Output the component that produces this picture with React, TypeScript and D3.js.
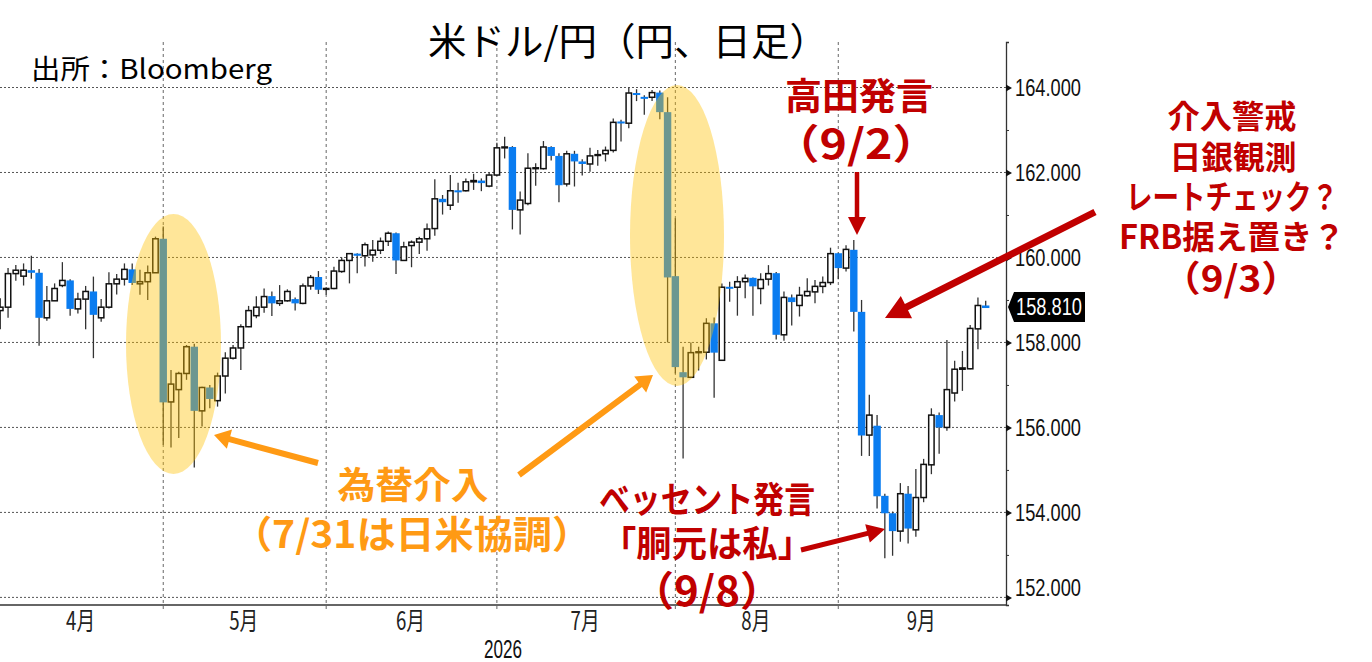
import React, { useEffect, useRef } from 'react';
import * as d3 from 'd3';

const WIDTH = 1372;
const HEIGHT = 662;

// USD/JPY daily bars
const opens = [
  158.75, 158.83, 159.62, 159.56, 159.70, 159.64, 158.58, 158.98, 159.34, 159.46,
  158.79, 159.02, 159.20, 158.58, 158.83, 159.38, 159.49, 159.72, 159.38, 159.43,
  159.64, 160.44, 156.60, 156.89, 157.27, 157.90, 156.39, 156.94, 156.63, 157.21,
  157.63, 157.87, 158.37, 158.63, 158.83, 159.09, 158.92, 158.98, 159.02, 158.92,
  159.33, 159.54, 159.25, 159.27, 159.67, 159.93, 160.09, 160.04, 160.06, 160.17,
  160.38, 160.57, 159.93, 160.28, 160.36, 160.44, 160.68, 161.38, 161.23, 161.58,
  161.57, 161.78, 161.81, 161.68, 161.94, 162.58, 162.60, 161.12, 161.27, 162.09,
  162.09, 162.60, 162.39, 161.73, 162.44, 162.26, 162.20, 162.40, 162.44, 162.52,
  163.20, 163.16, 163.87, 163.78, 163.77, 163.88, 163.42, 159.56, 157.30, 157.18,
  157.76, 157.77, 158.45, 157.58, 159.31, 159.30, 159.43, 159.52, 159.27, 159.49,
  159.63, 158.18, 159.06, 158.87, 159.10, 159.19, 159.32, 159.41, 160.10, 159.75,
  160.18, 158.72, 155.82, 156.04, 154.39, 153.98, 153.56, 154.44, 153.59, 154.35,
  155.12, 156.29, 156.00, 156.81, 157.37, 157.38, 158.32, 158.87,
];
const closes = [
  158.83, 159.62, 159.70, 159.70, 159.64, 158.58, 158.98, 159.27, 159.46, 158.79,
  159.02, 159.20, 158.65, 158.83, 159.38, 159.49, 159.72, 159.40, 159.43, 159.64,
  160.44, 156.59, 157.02, 157.27, 157.90, 156.39, 156.94, 156.67, 157.21, 157.63,
  157.87, 158.37, 158.75, 158.83, 159.08, 158.92, 158.98, 159.20, 158.92, 159.33,
  159.53, 159.24, 159.27, 159.68, 159.93, 160.09, 160.04, 160.30, 160.17, 160.38,
  160.57, 159.93, 160.25, 160.36, 160.44, 160.67, 161.38, 161.30, 161.57, 161.56,
  161.78, 161.81, 161.75, 161.94, 162.58, 162.60, 161.12, 161.35, 162.10, 162.11,
  162.60, 162.39, 161.70, 162.44, 162.26, 162.20, 162.39, 162.42, 162.52, 163.18,
  163.17, 163.87, 163.85, 163.76, 163.88, 163.42, 159.53, 157.42, 157.18, 157.76,
  157.78, 158.45, 157.76, 159.30, 159.29, 159.43, 159.51, 159.32, 159.48, 159.62,
  158.18, 159.06, 158.95, 159.11, 159.20, 159.32, 159.41, 160.09, 159.75, 160.19,
  158.72, 155.81, 156.29, 154.38, 153.98, 153.56, 154.44, 153.62, 154.35, 155.13,
  156.29, 156.00, 156.89, 157.37, 157.40, 158.33, 158.87, 158.81,
];
const highs = [
  159.04, 159.75, 159.82, 159.86, 160.04, 159.73, 159.33, 159.39, 159.89, 159.49,
  159.17, 159.33, 159.55, 159.02, 159.65, 159.61, 159.86, 159.86, 159.71, 159.81,
  160.49, 160.73, 157.35, 157.31, 157.94, 157.97, 156.96, 157.00, 157.29, 157.77,
  157.94, 158.43, 158.86, 159.09, 159.27, 159.20, 159.35, 159.25, 159.06, 159.39,
  159.59, 159.68, 159.30, 159.78, 160.00, 160.10, 160.10, 160.35, 160.41, 160.47,
  160.61, 160.59, 160.37, 160.40, 160.49, 160.80, 161.84, 161.47, 161.94, 161.76,
  161.86, 161.97, 161.86, 162.00, 162.70, 162.84, 162.62, 161.55, 162.45, 162.22,
  162.74, 162.62, 162.45, 162.51, 162.51, 162.31, 162.58, 162.53, 162.61, 163.27,
  163.24, 164.00, 163.96, 163.82, 163.94, 163.93, 163.77, 160.92, 157.90, 158.00,
  157.90, 158.57, 158.59, 159.39, 159.43, 159.56, 159.60, 159.53, 159.63, 159.82,
  159.66, 159.20, 159.13, 159.31, 159.51, 159.47, 159.55, 160.23, 160.11, 160.29,
  160.41, 159.00, 156.77, 156.29, 154.44, 154.02, 154.69, 154.62, 155.02, 155.26,
  156.45, 156.35, 158.06, 157.57, 157.80, 158.41, 159.06, 158.98,
];
const lows = [
  158.31, 158.58, 159.45, 159.34, 159.50, 157.92, 158.51, 158.98, 159.30, 158.63,
  158.68, 158.31, 157.63, 158.49, 158.80, 159.13, 159.34, 159.35, 159.12, 159.00,
  159.64, 155.59, 155.53, 155.75, 157.12, 155.06, 156.02, 156.45, 156.49, 156.80,
  157.60, 157.35, 158.36, 158.57, 158.70, 158.62, 158.86, 158.96, 158.75, 158.90,
  159.24, 159.14, 159.12, 159.25, 159.64, 159.39, 159.63, 159.79, 159.90, 160.08,
  160.27, 159.61, 159.93, 159.77, 160.08, 160.16, 160.51, 161.01, 161.12, 161.29,
  161.55, 161.59, 161.56, 161.65, 161.92, 162.33, 160.66, 160.54, 161.23, 161.69,
  162.07, 162.28, 161.30, 161.67, 161.67, 161.93, 162.02, 162.16, 162.26, 162.47,
  162.73, 163.04, 163.68, 163.36, 163.68, 163.25, 158.00, 157.27, 155.27, 157.18,
  157.34, 157.60, 156.70, 157.58, 158.96, 158.63, 159.04, 158.63, 158.90, 159.34,
  158.07, 158.04, 158.40, 158.61, 159.08, 158.92, 159.16, 159.35, 159.49, 159.67,
  158.26, 155.33, 155.33, 154.09, 152.92, 152.98, 153.31, 153.27, 153.43, 154.24,
  154.90, 155.38, 155.92, 156.61, 156.86, 157.37, 157.84, 158.82,
];

const priceTicks = [152, 153, 154, 155, 156, 157, 158, 159, 160, 161, 162, 163, 164];
const lastPrice = 158.81;

// bar number where each month starts
const monthStarts = [21, 42, 64, 87, 108];
const monthLabels = ['4月', '5月', '6月', '7月', '8月', '9月'];
const yearLabel = '2026';

const FONT_JP = '"Noto Sans CJK JP", "Noto Sans", sans-serif';
const FONT_NUM = '"Liberation Sans", Arial, sans-serif';
const BLUE = '#0a7cf0';
const RED = '#c00000';
const ORANGE = '#ff9a14';

type Label = { text: string; cx: number; cy: number; w: number; size: number };

// w is forced: the slide font has narrower kana and tighter brackets than Noto
const redLabels: Label[] = [
  { text: '高田発言', cx: 859, cy: 94, w: 148, size: 37 },
  { text: '（9/2）', cx: 856, cy: 141, w: 166, size: 41 },
  { text: '介入警戒', cx: 1232, cy: 114, w: 129, size: 32 },
  { text: '日銀観測', cx: 1233, cy: 155, w: 127, size: 32 },
  { text: 'レートチェック？', cx: 1232, cy: 195, w: 212, size: 33 },
  { text: 'FRB据え置き？', cx: 1232, cy: 235, w: 226, size: 33 },
  { text: '（9/3）', cx: 1231, cy: 276, w: 138, size: 36 },
  { text: 'ベッセント発言', cx: 707, cy: 497, w: 216, size: 36 },
  { text: '「胴元は私」', cx: 707, cy: 541, w: 212, size: 36 },
  { text: '（9/8）', cx: 707, cy: 588, w: 150, size: 41 },
];
const orangeLabels: Label[] = [
  { text: '為替介入', cx: 413, cy: 483, w: 151, size: 37 },
  { text: '（7/31は日米協調）', cx: 412, cy: 531, w: 358, size: 38 },
];

// tail -> tip of the hand drawn arrows on the slide
const arrows = [
  { from: [318, 463], to: [214, 435], color: ORANGE, w: 6, head: 16, headW: 20 },
  { from: [519, 475], to: [653, 375], color: ORANGE, w: 6, head: 16, headW: 20 },
  { from: [857, 172], to: [857, 235], color: RED, w: 4.5, head: 18, headW: 18 },
  { from: [1095, 212], to: [885, 318], color: RED, w: 7, head: 24, headW: 25 },
  { from: [801, 550], to: [885, 529], color: RED, w: 5, head: 18, headW: 19 },
];

const arrowPath = (a: typeof arrows[number]) => {
  const [x0, y0] = a.from;
  const [x1, y1] = a.to;
  const len = Math.hypot(x1 - x0, y1 - y0);
  const ux = (x1 - x0) / len;
  const uy = (y1 - y0) / len;
  const pt = (along: number, side: number) =>
    [x0 + ux * along - uy * side, y0 + uy * along + ux * side].join(',');
  const neck = len - a.head;
  return `M${pt(0, a.w / 2)}L${pt(neck, a.w / 2)}L${pt(neck, a.headW / 2)}L${pt(len, 0)}L${pt(neck, -a.headW / 2)}L${pt(neck, -a.w / 2)}L${pt(0, -a.w / 2)}Z`;
};

const App: React.FC = () => {
  const svgRef = useRef<SVGSVGElement>(null);

  useEffect(() => {
    const svg = d3.select(svgRef.current);
    svg.selectAll('*').remove();

    const plotRight = 1006;
    const plotTop = 42;
    const plotBottom = 605;

    const x = d3.scaleLinear().domain([0, 127]).range([0.3, 985.7]);
    const y = d3.scaleLinear().domain([152, 164]).range([597.4, 87.5]);
    const axisY = y.copy().domain([y.invert(plotBottom), y.invert(plotTop)]).range([plotBottom, plotTop]);

    // grid
    const grid = svg.append('g').attr('fill', 'none').attr('stroke', '#555').attr('stroke-width', 1);
    grid
      .selectAll('line.h')
      .data(priceTicks.filter((d) => d % 2 === 0))
      .join('line')
      .attr('class', 'h')
      .attr('x1', 0)
      .attr('x2', plotRight)
      .attr('y1', (d) => y(d))
      .attr('y2', (d) => y(d))
      .attr('stroke-dasharray', '2 2');
    grid
      .selectAll('line.v')
      .data(monthStarts)
      .join('line')
      .attr('class', 'v')
      .attr('x1', (d) => x(d))
      .attr('x2', (d) => x(d))
      .attr('y1', plotTop)
      .attr('y2', plotBottom + 4)
      .attr('stroke', '#666')
      .attr('stroke-dasharray', '3 3');

    // candles
    const bars = d3.range(opens.length);
    svg
      .append('g')
      .selectAll('line')
      .data(bars)
      .join('line')
      .attr('x1', (i) => x(i))
      .attr('x2', (i) => x(i))
      .attr('y1', (i) => y(highs[i]))
      .attr('y2', (i) => y(lows[i]))
      .attr('stroke', '#333')
      .attr('stroke-width', 1.3);

    const candle = svg.append('g');
    candle
      .selectAll('rect.down')
      .data(bars.filter((i) => closes[i] < opens[i]))
      .join('rect')
      .attr('class', 'down')
      .attr('x', (i) => x(i) - 3.7)
      .attr('width', 7.4)
      .attr('y', (i) => y(opens[i]))
      .attr('height', (i) => Math.max(2, y(closes[i]) - y(opens[i])))
      .attr('fill', BLUE);
    candle
      .selectAll('rect.up')
      .data(bars.filter((i) => closes[i] >= opens[i]))
      .join('rect')
      .attr('class', 'up')
      .attr('x', (i) => x(i) - 2.7)
      .attr('width', 5.4)
      .attr('y', (i) => y(closes[i]))
      .attr('height', (i) => Math.max(0.6, y(opens[i]) - y(closes[i])))
      .attr('fill', '#fff')
      .attr('stroke', '#111')
      .attr('stroke-width', 1.5);

    // intervention highlights
    svg
      .append('g')
      .attr('fill', '#ffc000')
      .attr('fill-opacity', 0.4)
      .selectAll('ellipse')
      .data([
        { cx: 173.5, cy: 344, rx: 47.5, ry: 130 },
        { cx: 677, cy: 235.5, rx: 47, ry: 150.5 },
      ])
      .join('ellipse')
      .attr('cx', (d) => d.cx)
      .attr('cy', (d) => d.cy)
      .attr('rx', (d) => d.rx)
      .attr('ry', (d) => d.ry);

    // price axis
    const yAxis = svg
      .append('g')
      .attr('transform', `translate(${plotRight},0)`)
      .call(
        d3
          .axisRight(axisY)
          .tickValues(priceTicks)
          .tickSize(3)
          .tickFormat((d) => ((d as number) % 2 === 0 ? d3.format('.3f')(d as number) : ''))
      );
    yAxis.select('.domain').attr('stroke', '#333').attr('stroke-width', 1.3);
    yAxis.selectAll('.tick line').attr('stroke', '#333');
    yAxis
      .selectAll('.tick text')
      .attr('x', 9)
      .attr('dy', (d) => ((d as number) === 152 ? '-0.1em' : '0.34em'))
      .attr('font-family', FONT_NUM)
      .attr('font-size', 24)
      .attr('fill', '#111')
      .attr('textLength', 66)
      .attr('lengthAdjust', 'spacingAndGlyphs');
    yAxis
      .selectAll('.tick')
      .filter((d) => (d as number) % 2 === 0)
      .append('path')
      .attr('d', 'M0,-3.5L6,0L0,3.5Z')
      .attr('fill', '#111');

    // month axis
    const bounds = [0, ...monthStarts.map((d) => x(d)), plotRight];
    svg
      .append('line')
      .attr('x1', 0)
      .attr('x2', plotRight)
      .attr('y1', plotBottom)
      .attr('y2', plotBottom)
      .attr('stroke', '#333')
      .attr('stroke-width', 1.4);
    svg
      .append('g')
      .selectAll('text')
      .data(monthLabels)
      .join('text')
      .attr('x', (d, i) => (bounds[i] + bounds[i + 1]) / 2 - 1)
      .attr('y', 630)
      .attr('text-anchor', 'middle')
      .attr('font-family', FONT_JP)
      .attr('font-size', 25)
      .attr('fill', '#222')
      .attr('textLength', 29)
      .attr('lengthAdjust', 'spacingAndGlyphs')
      .text((d) => d);
    svg
      .append('text')
      .attr('x', 503)
      .attr('y', 658)
      .attr('text-anchor', 'middle')
      .attr('font-family', FONT_NUM)
      .attr('font-size', 25)
      .attr('fill', '#111')
      .attr('textLength', 38)
      .attr('lengthAdjust', 'spacingAndGlyphs')
      .text(yearLabel);

    // last price tag
    const tagY = y(lastPrice) - 1;
    svg
      .append('path')
      .attr('d', `M1008,${tagY}L1014,${tagY - 15}H1085V${tagY + 15}H1014Z`)
      .attr('fill', '#000');
    svg
      .append('text')
      .attr('x', 1016)
      .attr('y', tagY + 8)
      .attr('font-family', FONT_NUM)
      .attr('font-size', 24)
      .attr('fill', '#fff')
      .attr('textLength', 66)
      .attr('lengthAdjust', 'spacingAndGlyphs')
      .text(d3.format('.3f')(lastPrice));

    // arrows
    svg
      .append('g')
      .selectAll('path')
      .data(arrows)
      .join('path')
      .attr('d', arrowPath)
      .attr('fill', (d) => d.color);

    // title + source
    svg
      .append('text')
      .attr('x', 628)
      .attr('y', 38)
      .attr('dominant-baseline', 'central')
      .attr('text-anchor', 'middle')
      .attr('font-family', FONT_JP)
      .attr('font-size', 38)
      .attr('fill', '#000')
      .attr('textLength', 400)
      .attr('lengthAdjust', 'spacingAndGlyphs')
      .text('米ドル/円（円、日足）');
    svg
      .append('text')
      .attr('x', 31)
      .attr('y', 79)
      .attr('font-family', FONT_JP)
      .attr('font-size', 27)
      .attr('fill', '#000')
      .attr('textLength', 241)
      .attr('lengthAdjust', 'spacingAndGlyphs')
      .text('出所：Bloomberg');

    // callouts
    const addLabels = (rows: Label[], color: string) => {
      svg
        .append('g')
        .selectAll('text')
        .data(rows)
        .join('text')
        .attr('x', (d) => d.cx)
        .attr('y', (d) => d.cy)
        .attr('dominant-baseline', 'central')
        .attr('text-anchor', 'middle')
        .attr('font-family', FONT_JP)
        .attr('font-weight', 700)
        .attr('font-size', (d) => d.size)
        .attr('fill', color)
        .attr('textLength', (d) => d.w)
        .attr('lengthAdjust', 'spacingAndGlyphs')
        .text((d) => d.text);
    };
    addLabels(redLabels, RED);
    addLabels(orangeLabels, ORANGE);
  }, []);

  return (
    <svg
      ref={svgRef}
      width={WIDTH}
      height={HEIGHT}
      style={{ position: 'absolute', left: 0, top: 0, background: '#fff' }}
    />
  );
};

export default App;
